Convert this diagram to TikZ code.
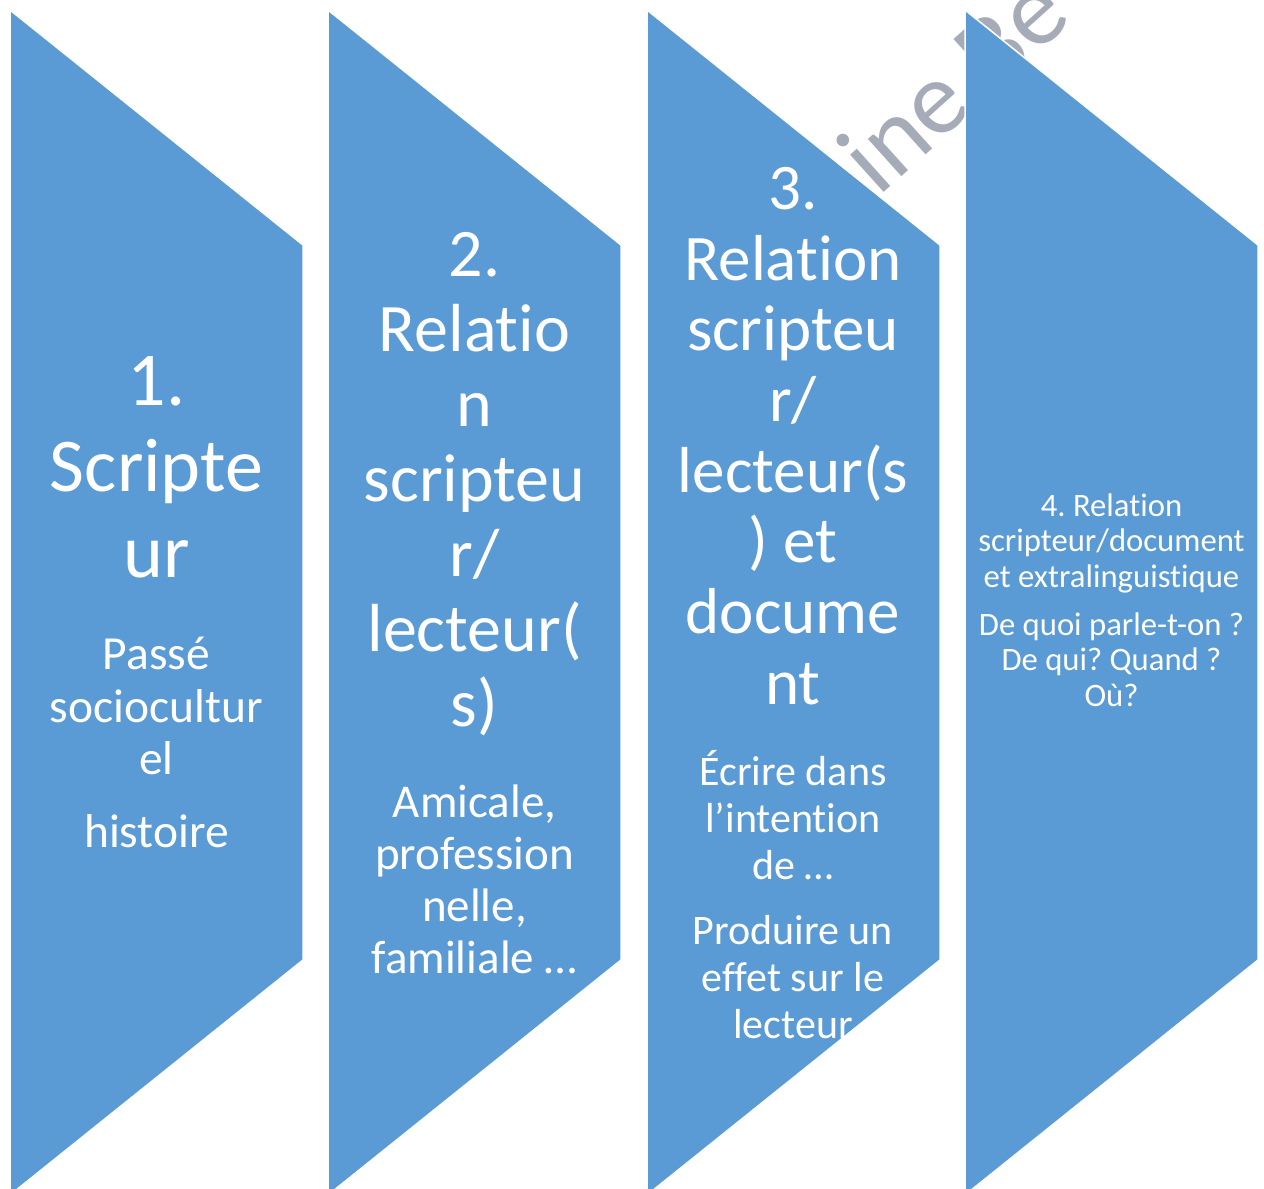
\documentclass[tikz,border=0pt]{standalone}
\usepackage{fontspec}
\setmainfont{Carlito}[Ligatures = NoCommon]
\usetikzlibrary{positioning}
\definecolor{panelblue}{HTML}{5B9BD5}
\definecolor{markgray}{RGB}{166,172,183}

\begin{document}
\frenchspacing
\begin{tikzpicture}[x = 1pt, y = -1pt,
	panel/.style = {fill = panelblue, draw = white, line width = 1.5pt},
	paneltext/.style = {text = white, inner sep = 0pt,
		execute at begin node = {\begin{minipage}{290pt}\centering},
		execute at end node = {\end{minipage}}},
	watermark/.style = {text = markgray, font = \fontsize{105}{120}\selectfont, rotate = 42, inner sep = 0pt}]
	\useasboundingbox (0, 0) rectangle (1264, 1189);
	\node [watermark, anchor = base west] (mark) at (878, 198) {ine Be};
	\draw [panel] (10, 10) -- (303, 245) -- (303, 960) -- (10, 1195) -- cycle;
	\draw [panel] (328, 10) -- (621, 245) -- (621, 960) -- (328, 1195) -- cycle;
	\draw [panel] (647, 10) -- (940, 245) -- (940, 960) -- (647, 1195) -- cycle;
	\draw [panel] (965, 10) -- (1258, 245) -- (1258, 960) -- (965, 1195) -- cycle;
	\node [paneltext] (writer) at (156.5, 602) {\fontsize{76}{86}\selectfont 1.\\ Scripte\\ ur\par
		\vspace{40pt}\fontsize{47.5}{52.5}\selectfont Passé\\ sociocultur\\ el\par
		\vspace{20pt}histoire\par};
	\node [paneltext] (reader) at (474.5, 603) {\fontsize{68}{75}\selectfont 2.\\ Relatio\\ n\\ scripteu\\ r/\\ lecteur(\\ s)\par
		\vspace{39pt}\fontsize{47}{52}\selectfont Amicale,\\ profession\\ nelle,\\ familiale …\par};
	\node [paneltext] (document) at (793, 603) {\fontsize{65}{70.7}\selectfont 3.\\ Relation\\ scripteu\\ r/\\ lecteur(s\\ ) et\\ docume\\ nt\par
		\vspace{34pt}\fontsize{42}{47}\selectfont Écrire dans\\ l’intention\\ de …\par
		\vspace{18pt}Produire un\\ effet sur le\\ lecteur\par};
	\node [paneltext] (context) at (1111.5, 600) {\fontsize{32.7}{35.5}\selectfont 4. Relation\\ scripteur/document\\ et extralinguistique\par
		\vspace{12.5pt}De quoi parle-t-on ?\\ De qui? Quand ?\\ Où?\par};
\end{tikzpicture}
\end{document}
